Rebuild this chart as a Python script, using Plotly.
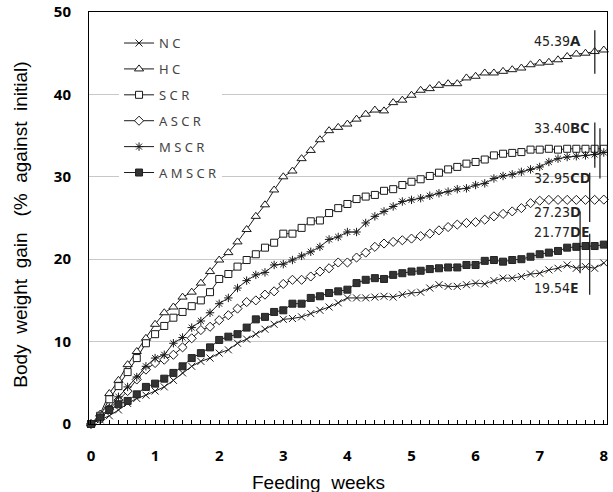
import plotly.graph_objects as go

# ---- data (daily readings, day 0..56) ----
days = list(range(57))
weeks = [d / 7 for d in days]

NC = [0, 0.5, 1.0, 1.7, 2.5, 3.1, 3.5, 4.0, 4.5, 5.3, 6.2, 7.0, 7.6, 8.0, 8.6, 9.0, 9.8, 10.3,
      10.9, 11.5, 12.1, 12.7, 12.8, 13.0, 13.4, 13.8, 14.2, 14.7, 15.3, 15.3, 15.3, 15.4, 15.5,
      15.4, 15.7, 15.9, 16.0, 16.5, 16.9, 16.7, 16.7, 16.9, 17.1, 17.0, 17.4, 17.7, 17.7, 17.9,
      18.2, 18.3, 18.7, 18.9, 19.3, 18.9, 19.1, 18.9, 19.54]
HC = [0, 1.2, 3.7, 5.3, 7.2, 8.8, 10.4, 12.1, 13.5, 14.2, 15.4, 16.0, 17.1, 18.5, 19.9, 20.8,
      22.1, 23.6, 25.2, 26.6, 28.4, 30.0, 30.7, 32.2, 33.2, 34.5, 35.6, 36.0, 36.4, 37.0, 37.6,
      38.1, 38.0, 39.0, 39.3, 39.9, 40.5, 40.7, 41.1, 41.3, 41.3, 42.0, 42.2, 42.6, 42.6, 42.8,
      43.0, 43.2, 43.6, 43.8, 43.9, 44.2, 44.6, 44.9, 45.0, 45.2, 45.39]
SCR = [0, 1.0, 3.0, 4.6, 6.3, 8.0, 9.8, 10.9, 11.9, 12.9, 13.6, 14.3, 15.0, 16.0, 17.6, 18.2,
       19.1, 19.9, 20.6, 21.4, 22.0, 23.1, 23.1, 23.8, 24.6, 24.7, 25.6, 26.2, 26.7, 27.3, 27.6,
       27.8, 28.3, 28.5, 29.0, 29.4, 29.7, 30.1, 30.5, 30.9, 31.2, 31.6, 31.8, 32.1, 32.6, 32.8,
       32.9, 33.0, 33.3, 33.3, 33.4, 33.3, 33.4, 33.4, 33.4, 33.4, 33.40]
ASCR = [0, 0.6, 1.8, 2.9, 4.0, 5.4, 6.6, 7.4, 7.8, 8.4, 9.3, 10.4, 11.4, 11.8, 12.6, 13.2, 14.0,
        14.8, 15.0, 15.7, 16.1, 17.0, 17.5, 17.5, 17.9, 18.5, 18.9, 19.6, 19.6, 20.2, 20.8, 21.5,
        21.9, 22.1, 22.3, 22.5, 22.8, 23.1, 23.5, 23.9, 24.2, 24.4, 24.5, 24.8, 25.2, 25.5, 25.8,
        26.2, 26.8, 27.1, 27.2, 27.2, 27.2, 27.2, 27.2, 27.2, 27.23]
MSCR = [0, 0.8, 2.0, 3.3, 4.5, 5.7, 7.0, 8.0, 8.4, 9.8, 10.5, 11.7, 12.5, 13.5, 14.6, 15.3, 16.5,
        17.4, 18.1, 18.4, 19.3, 19.4, 19.9, 20.4, 20.9, 21.5, 22.4, 22.7, 23.3, 23.3, 24.4, 25.2,
        25.8, 26.4, 27.0, 27.2, 27.4, 27.7, 28.0, 28.2, 28.5, 28.6, 29.0, 29.2, 29.8, 30.1, 30.3,
        30.6, 30.9, 31.2, 31.8, 32.2, 32.4, 32.5, 32.6, 32.7, 32.95]
AMSCR = [0, 0.8, 1.7, 2.4, 2.8, 3.6, 4.5, 4.9, 5.5, 6.2, 7.0, 8.0, 8.6, 9.3, 10.2, 10.6, 10.9,
         11.7, 12.7, 13.0, 13.6, 13.8, 14.6, 14.6, 15.3, 15.5, 15.9, 16.1, 16.3, 17.1, 17.5, 17.7,
         17.6, 18.1, 18.3, 18.5, 18.6, 18.8, 18.9, 19.0, 19.0, 19.3, 19.3, 19.8, 19.9, 19.7, 19.9,
         20.0, 20.3, 20.6, 20.8, 21.0, 21.4, 21.5, 21.6, 21.6, 21.77]

series_names = ["N C", "H C", "S C R", "A S C R", "M S C R", "A M S C R"]
series_values = [NC, HC, SCR, ASCR, MSCR, AMSCR]

# final means with significance letters
final_means = ["45.39", "33.40", "32.95", "27.23", "21.77", "19.54"]
final_letters = ["A", "BC", "CD", "D", "DE", "E"]
label_y = [46.6, 36.0, 30.0, 25.85, 23.4, 16.6]

# error bars at end (low, high) and their plotted week position
err_groups = ["HC", "SCR", "MSCR", "ASCR", "AMSCR", "NC"]
err_low = [42.5, 31.1, 29.8, 24.5, 18.3, 15.7]
err_high = [47.8, 36.6, 35.9, 30.5, 25.8, 23.1]
err_week = [7.86, 7.86, 7.94, 7.78, 7.63, 7.78]

x_ticks = [0, 1, 2, 3, 4, 5, 6, 7, 8]
y_ticks = [0, 10, 20, 30, 40, 50]

x_title = "Feeding&#160;&#160;weeks"
y_title = "Body&#160;&#160;weight&#160;&#160;gain&#160;&#160;&#160;(%&#160;&#160;against&#160;&#160;initial)"

# ---- styles ----
LC = "#1a1a1a"
styles = [
    dict(symbol="x-thin-open", size=7, color=LC, line=dict(color=LC, width=1)),
    dict(symbol="triangle-up", size=8, color="white", line=dict(color=LC, width=1)),
    dict(symbol="square", size=7, color="white", line=dict(color=LC, width=1)),
    dict(symbol="diamond", size=7, color="white", line=dict(color=LC, width=1)),
    dict(symbol="asterisk-open", size=7, color=LC, line=dict(color=LC, width=1)),
    dict(symbol="square", size=7, color="#333333", line=dict(color="#222222", width=1)),
]

fig = go.Figure()
for i, (name, vals) in enumerate(zip(series_names, series_values)):
    fig.add_trace(go.Scatter(
        x=weeks, y=vals, name=name, mode="lines+markers",
        line=dict(color=LC, width=1), marker=styles[i], legendgroup=f"g{i}",
        cliponaxis=False,
    ))

mid = [(a + b) / 2 for a, b in zip(err_low, err_high)]
half = [(b - a) / 2 for a, b in zip(err_low, err_high)]
fig.add_trace(go.Scatter(
    x=err_week, y=mid, mode="markers", marker=dict(size=0.1, color="rgba(0,0,0,0)"),
    error_y=dict(type="data", array=half, visible=True, color="#111111", thickness=1.2, width=0),
    showlegend=False, hoverinfo="skip",
))

for m, l, yv in zip(final_means, final_letters, label_y):
    fig.add_annotation(
        x=6.88, y=yv, xref="x", yref="y", xanchor="left", yanchor="middle", showarrow=False,
        text=(f"<span style='font-family:Liberation Sans Narrow, DejaVu Sans Condensed, sans-serif;"
              f"font-size:14px'>{m}</span>"
              f"<b><span style='font-size:15px'>{l}</span></b>"),
        font=dict(family="Noto Sans, Liberation Sans, sans-serif", size=14, color="#222222"),
    )

# axis titles (placed as annotations to match reference offsets)
fig.add_annotation(x=0.444, y=-0.141, xref="paper", yref="paper", text=x_title, showarrow=False,
                   xanchor="center", yanchor="middle",
                   font=dict(family="Liberation Sans, Arial, sans-serif", size=19, color="black"))
fig.add_annotation(x=-0.133, y=0.484, xref="paper", yref="paper", text=y_title, showarrow=False,
                   xanchor="center", yanchor="middle", textangle=-90,
                   font=dict(family="Liberation Sans, Arial, sans-serif", size=19, color="black"))

fig.update_layout(
    width=613, height=492,
    margin=dict(l=89, r=6, t=12, b=68, autoexpand=False),
    plot_bgcolor="white", paper_bgcolor="white",
    showlegend=True,
    legend=dict(x=0.058, y=0.961, xanchor="left", yanchor="top", bgcolor="white",
                font=dict(family="Noto Sans, Liberation Sans, sans-serif", size=13, color="#444444"),
                tracegroupgap=6, itemwidth=30),
)
fig.update_xaxes(
    range=[-0.031, 8.05], tickvals=x_ticks, ticktext=[str(t) for t in x_ticks],
    showline=True, linecolor="black", linewidth=1, mirror=True, automargin=False,
    showgrid=False, zeroline=False, ticks="inside", ticklen=4, tickcolor="black",
    minor=dict(dtick=1 / 7, tick0=0, ticks="inside", ticklen=4, tickcolor="black", showgrid=False),
    tickfont=dict(family="Noto Sans, Liberation Sans, sans-serif", size=15, color="black", weight="bold"),
    ticklabelstandoff=18,
)
fig.update_yaxes(
    range=[0, 50], tickvals=y_ticks, ticktext=[str(t) for t in y_ticks],
    showline=True, linecolor="black", linewidth=1, mirror=True, automargin=False,
    showgrid=True, gridcolor="#c8c8c8", gridwidth=1, zeroline=False, ticks="",
    tickfont=dict(family="Noto Sans, Liberation Sans, sans-serif", size=15, color="black", weight="bold"),
    ticklabelstandoff=14,
)

fig.write_html("out.html")
